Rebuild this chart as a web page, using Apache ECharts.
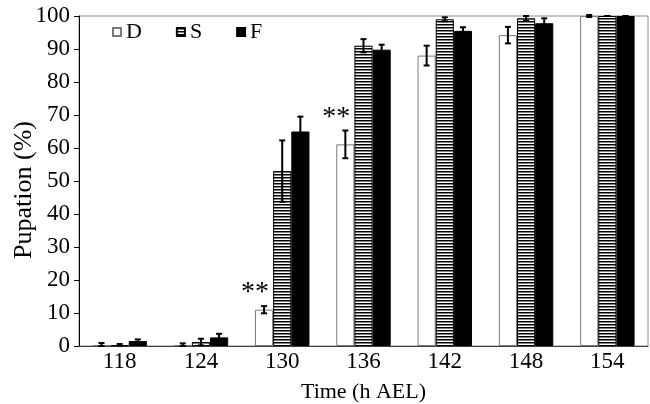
<!DOCTYPE html>
<html>
<head>
<meta charset="utf-8">
<script src="https://cdn.jsdelivr.net/npm/echarts@6/dist/echarts.min.js"></script>
<style>
  html, body { margin: 0; padding: 0; background: #fff; }
  #chart { width: 650px; height: 404px; }
</style>
</head>
<body>
<div id="chart"></div>
<script>
// Time points (hours after egg laying)
var categories = ['118', '124', '130', '136', '142', '148', '154'];

// Pupation percentages per group, with error values
var dValues = [0.3, 0.3, 11, 61.1, 88, 94.2, 100];
var dErrors = [0.6, 0.5, 1.1, 4.2, 3, 2.5, 0.3];
var sValues = [0.2, 1.2, 53, 91, 99, 99.3, 100];
var sErrors = [0.4, 1.0, 9.3, 2, 0.6, 0.7, 0];
var fValues = [1.5, 2.6, 65, 89.8, 95.5, 97.8, 100];
var fErrors = [0.5, 1.1, 4.5, 1.5, 1.1, 1.5, 0];

// Significance marks above the D bars
var dSignif = ['', '', '**', '**', '', '', ''];

var yTicks = { min: 0, max: 100, interval: 10 };

var FONT = 'Liberation Serif';
var CAT_GAP = 0.33;
var N_SERIES = 3;

// Horizontal stripe fill for the S bars
function stripePattern() {
  var c = document.createElement('canvas');
  c.width = 4; c.height = 3;
  var ctx = c.getContext('2d');
  ctx.fillStyle = '#ffffff';
  ctx.fillRect(0, 0, 4, 3);
  ctx.fillStyle = '#000000';
  ctx.fillRect(0, 0, 4, 1);
  ctx.fillStyle = '#808080';
  ctx.fillRect(0, 1, 4, 1);
  return { image: c, repeat: 'repeat' };
}

// Shift from category centre to the centre of bar k
function barOffset(band, k) {
  var used = band * (1 - CAT_GAP);
  var w = used / N_SERIES;
  return -used / 2 + w * (k + 0.5);
}

function errorSeries(values, errors, k) {
  return {
    type: 'custom',
    z: 5,
    silent: true,
    data: values.map(function (v, i) { return [i, v, errors[i]]; }),
    renderItem: function (params, api) {
      var i = api.value(0), v = api.value(1), e = api.value(2);
      var band = api.size([1, 0])[0];
      var dx = barOffset(band, k);
      var top = api.coord([i, v + e]);
      var bot = api.coord([i, Math.max(0, v - e)]);
      var x = top[0] + dx;
      var cap = 3;
      var st = { stroke: '#000', lineWidth: 2 };
      return {
        type: 'group',
        children: [
          { type: 'line', shape: { x1: x, y1: top[1], x2: x, y2: bot[1] }, style: st },
          { type: 'line', shape: { x1: x - cap, y1: top[1], x2: x + cap, y2: top[1] }, style: st },
          { type: 'line', shape: { x1: x - cap, y1: bot[1], x2: x + cap, y2: bot[1] }, style: st }
        ]
      };
    }
  };
}

var signifSeries = {
  type: 'custom',
  z: 6,
  silent: true,
  data: dValues.map(function (v, i) { return [i, v + dErrors[i], dSignif[i]]; }),
  renderItem: function (params, api) {
    var i = api.value(0);
    var mark = dSignif[i];
    if (!mark) return null;
    var band = api.size([1, 0])[0];
    var p = api.coord([i, api.value(1)]);
    return {
      type: 'text',
      style: {
        x: p[0] + barOffset(band, 0) - 9,
        y: p[1] - 13,
        text: mark,
        fill: '#000',
        font: '28px "' + FONT + '"',
        align: 'center',
        verticalAlign: 'middle'
      }
    };
  }
};

var chart = echarts.init(document.getElementById('chart'), null, { renderer: 'canvas' });

chart.setOption({
  animation: false,
  backgroundColor: '#ffffff',
  textStyle: { fontFamily: FONT, color: '#000' },
  grid: {
    left: 79, right: 2, top: 16, bottom: 58,
    containLabel: false,
    outerBoundsMode: 'none',
    show: true, borderColor: '#8c8c8c', borderWidth: 1, backgroundColor: 'transparent'
  },
  legend: {
    data: ['D', 'S', 'F'],
    left: 112, top: 21, padding: 0,
    itemWidth: 8, itemHeight: 8, itemGap: 34,
    icon: 'rect',
    textStyle: { fontFamily: FONT, fontSize: 22, color: '#000' }
  },
  xAxis: {
    type: 'category',
    data: categories,
    name: 'Time (h AEL)',
    nameLocation: 'middle',
    nameGap: 35,
    nameMoveOverlap: false,
    nameTextStyle: { fontFamily: FONT, fontSize: 22, color: '#000' },
    axisLine: { lineStyle: { color: '#404040', width: 1 } },
    axisTick: { show: false },
    axisLabel: { fontFamily: FONT, fontSize: 23, color: '#000', margin: 4 },
    splitLine: { show: false }
  },
  yAxis: {
    type: 'value',
    min: yTicks.min, max: yTicks.max, interval: yTicks.interval,
    name: 'Pupation (%)',
    nameLocation: 'middle',
    nameGap: 42,
    nameMoveOverlap: false,
    nameTextStyle: { fontFamily: FONT, fontSize: 26, color: '#000', padding: [0, 18, 0, 0] },
    axisLine: { show: true, lineStyle: { color: '#000', width: 1 } },
    axisTick: { show: true, length: 5, lineStyle: { color: '#000' } },
    axisLabel: { fontFamily: FONT, fontSize: 23, color: '#000', margin: 9 },
    splitLine: { show: false }
  },
  series: [
    {
      name: 'D', type: 'bar', data: dValues,
      barGap: '0%', barCategoryGap: (CAT_GAP * 100) + '%',
      itemStyle: { color: '#ffffff', borderColor: '#7a7a7a', borderWidth: 1 }
    },
    {
      name: 'S', type: 'bar', data: sValues,
      barGap: '0%', barCategoryGap: (CAT_GAP * 100) + '%',
      itemStyle: { color: stripePattern(), borderColor: '#000', borderWidth: 1 }
    },
    {
      name: 'F', type: 'bar', data: fValues,
      barGap: '0%', barCategoryGap: (CAT_GAP * 100) + '%',
      itemStyle: { color: '#000', borderColor: '#000', borderWidth: 1 }
    },
    errorSeries(dValues, dErrors, 0),
    errorSeries(sValues, sErrors, 1),
    errorSeries(fValues, fErrors, 2),
    signifSeries
  ]
});
</script>
</body>
</html>
